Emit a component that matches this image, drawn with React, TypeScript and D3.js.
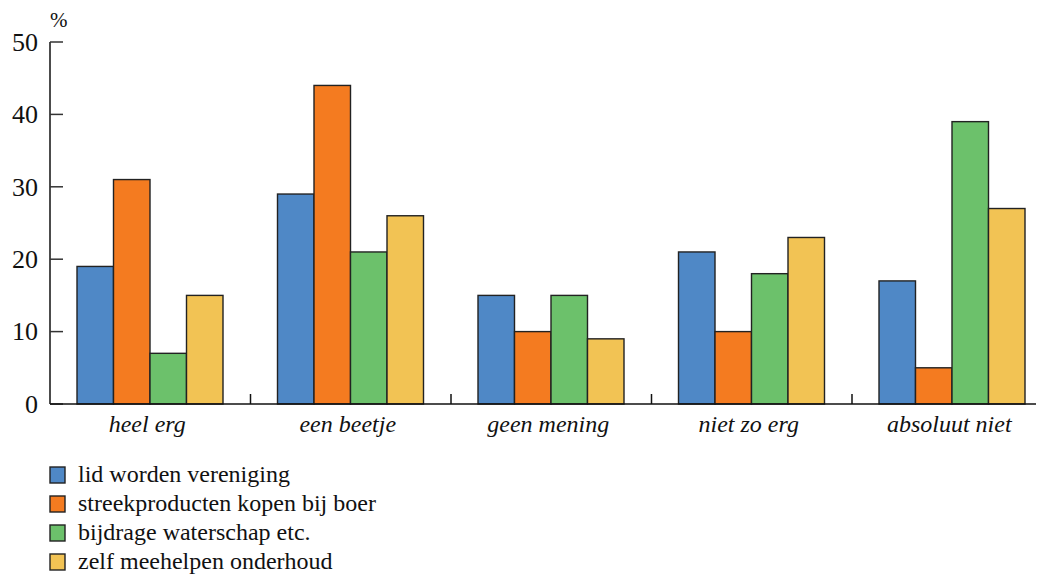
import React, { useEffect, useRef } from "react";
import * as d3 from "d3";

const categories = ["heel erg", "een beetje", "geen mening", "niet zo erg", "absoluut niet"];
const seriesNames = [
  "lid worden vereniging",
  "streekproducten kopen bij boer",
  "bijdrage waterschap etc.",
  "zelf meehelpen onderhoud",
];
const seriesColors = ["#4F88C6", "#F47B20", "#6CC16B", "#F2C354"];
const lidWorden = [19, 29, 15, 21, 17];
const streekproducten = [31, 44, 10, 10, 5];
const bijdrage = [7, 21, 15, 18, 39];
const zelfMeehelpen = [15, 26, 9, 23, 27];
const yTicks = [0, 10, 20, 30, 40, 50];

const values = [lidWorden, streekproducten, bijdrage, zelfMeehelpen];

const FONT = "Liberation Serif";

export default function App() {
  const ref = useRef<SVGSVGElement>(null);
  useEffect(() => {
    if (ref.current) {
      d3.select(ref.current).selectAll("text").style("font-family", "'Liberation Serif'", "important");
    }
  }, []);
  const W = 1044;
  const H = 575;
  const x0 = 50;
  const y = d3.scaleLinear().domain([0, 50]).range([404, 42]);
  const x = d3.scaleBand<string>().domain(categories).range([x0, x0 + 5 * 200.5]).paddingInner(0).paddingOuter(0);
  const inner = d3
    .scaleBand<number>()
    .domain([0, 1, 2, 3])
    .range([27, 200.5 - 27.5])
    .padding(0);
  return (
    <svg ref={ref} width={W} height={H} style={{ display: "block", marginLeft: -8, marginTop: -8 }}>
      <rect width={W} height={H} fill="#fff" />
      {categories.map((c, ci) => (
        <g key={c} transform={`translate(${x(c)},0)`}>
          {values.map((arr, si) => (
            <rect
              key={si}
              x={inner(si)}
              y={y(arr[ci])}
              width={inner.bandwidth()}
              height={y(0) - y(arr[ci])}
              fill={seriesColors[si]}
              stroke="#222"
              strokeWidth={1.4}
            />
          ))}
        </g>
      ))}
      <line x1={x0} x2={x0} y1={y(50)} y2={y(0)} stroke="#111" strokeWidth={1.5} />
      {yTicks.map((t) => (
        <g key={t}>
          <line x1={x0} x2={x0 + 13} y1={y(t)} y2={y(t)} stroke="#333" strokeWidth={1.5} />
          <text x={38} y={y(t)} dy="0.34em" textAnchor="end" fontSize={26} fontFamily={FONT} fill="#111">
            {t}
          </text>
        </g>
      ))}
      <text x={50} y={27} fontSize={21} fontFamily={FONT} fill="#111">
        %
      </text>
      <line x1={x0} x2={W} y1={y(0)} y2={y(0)} stroke="#111" strokeWidth={1.5} />
      {categories.slice(1).map((c) => (
        <line key={c} x1={x(c)} x2={x(c)} y1={y(0)} y2={y(0) - 10} stroke="#111" strokeWidth={1.5} />
      ))}
      {categories.map((c) => (
        <text
          key={c}
          x={(x(c) as number) + x.bandwidth() / 2 - 3}
          y={432}
          textAnchor="middle"
          fontStyle="italic"
          fontSize={24}
          fontFamily={FONT}
          fill="#111"
        >
          {c}
        </text>
      ))}
      {seriesNames.map((n, i) => (
        <g key={n} transform={`translate(0,${467 + i * 29})`}>
          <rect x={50} y={0} width={15} height={16} fill={seriesColors[i]} stroke="#222" strokeWidth={1.4} />
          <text x={78} y={15} fontSize={24} fontFamily={FONT} fill="#111">
            {n}
          </text>
        </g>
      ))}
    </svg>
  );
}
